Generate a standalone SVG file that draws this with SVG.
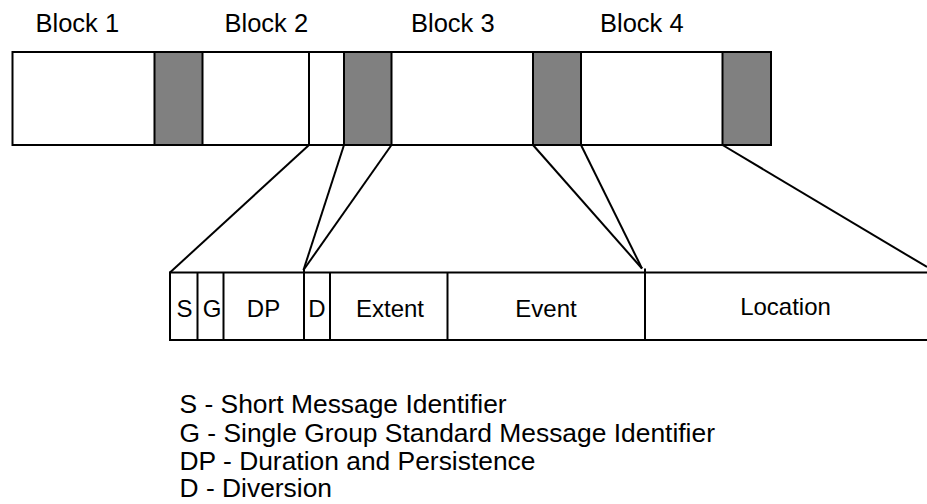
<svg xmlns="http://www.w3.org/2000/svg" width="927" height="504" viewBox="0 0 927 504">
<style>
.t{font-family:"Liberation Sans",Arial,sans-serif;fill:#000}
.blk{font-size:25.5px}
.cell{font-size:24px;text-anchor:middle}
.leg{font-size:26.4px}
.box{fill:#fff;stroke:#000;stroke-width:2}
.gray{fill:#808080;stroke:#000;stroke-width:2}
.ln{stroke:#000;stroke-width:2;fill:none}
</style>
<rect width="927" height="504" fill="#fff"/>
<g id="top-bar">
<rect class="box" x="12.5" y="52" width="758.5" height="93"/>
<rect class="gray" x="154.5" y="52" width="48" height="93"/>
<line class="ln" x1="309" y1="52" x2="309" y2="145"/>
<rect class="gray" x="344" y="52" width="47.5" height="93"/>
<rect class="gray" x="533" y="52" width="48" height="93"/>
<rect class="gray" x="722.5" y="52" width="48.5" height="93"/>
</g>
<g id="block-labels">
<text class="t blk" x="35.5" y="32">Block 1</text>
<text class="t blk" x="224.5" y="32">Block 2</text>
<text class="t blk" x="411" y="32">Block 3</text>
<text class="t blk" x="600" y="32">Block 4</text>
</g>
<g id="connectors">
<line class="ln" x1="309" y1="145" x2="170" y2="272.5"/>
<line class="ln" x1="344" y1="145" x2="303.5" y2="270"/>
<line class="ln" x1="391.5" y1="145" x2="303.5" y2="270"/>
<line class="ln" x1="533" y1="145" x2="642" y2="268.5"/>
<line class="ln" x1="581" y1="145" x2="642" y2="268.5"/>
<line class="ln" x1="722.5" y1="145" x2="927" y2="267"/>
</g>
<g id="fields">
<line class="ln" x1="170" y1="272.5" x2="927" y2="272.5"/>
<line class="ln" x1="170" y1="340" x2="927" y2="340"/>
<line class="ln" x1="170" y1="271.5" x2="170" y2="341"/>
<line class="ln" x1="197.5" y1="272.5" x2="197.5" y2="340"/>
<line class="ln" x1="223.5" y1="272.5" x2="223.5" y2="340"/>
<line class="ln" x1="304" y1="270" x2="304" y2="340"/>
<line class="ln" x1="330" y1="272.5" x2="330" y2="340"/>
<line class="ln" x1="447.5" y1="272.5" x2="447.5" y2="340"/>
<line class="ln" x1="645" y1="268.5" x2="645" y2="340"/>
<text class="t cell" x="184.5" y="317">S</text>
<text class="t cell" x="212" y="317">G</text>
<text class="t cell" x="263.5" y="317">DP</text>
<text class="t cell" x="317" y="317">D</text>
<text class="t cell" x="390" y="317">Extent</text>
<text class="t cell" x="546" y="317">Event</text>
<text class="t cell" x="785.5" y="315">Location</text>
</g>
<g id="legend">
<text class="t leg" x="179.5" y="413">S - Short Message Identifier</text>
<text class="t leg" x="179.5" y="441.5">G - Single Group Standard Message Identifier</text>
<text class="t leg" x="179.5" y="469.5">DP - Duration and Persistence</text>
<text class="t leg" x="179.5" y="497">D - Diversion</text>
</g>
</svg>
